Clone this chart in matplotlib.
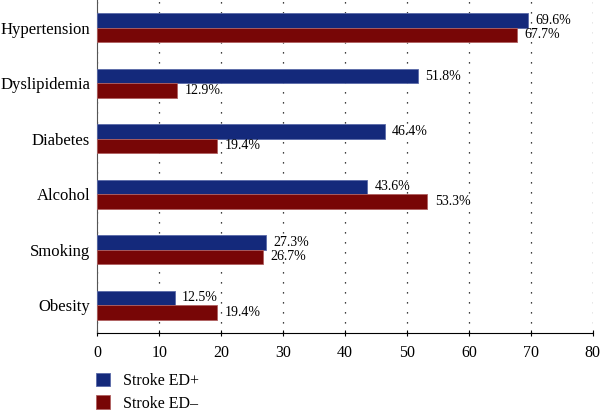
import matplotlib
matplotlib.use('Agg')
import matplotlib.pyplot as plt
import numpy as np

# datos
categorias = ['Hypertension', 'Dyslipidemia', 'Diabetes', 'Alcohol', 'Smoking', 'Obesity']
ed_pos = [69.6, 51.8, 46.4, 43.6, 27.3, 12.5]
ed_neg = [67.7, 12.9, 19.4, 53.3, 26.7, 19.4]
xticks = [0, 10, 20, 30, 40, 50, 60, 70, 80]

plt.rcParams['font.family'] = ['Liberation Serif', 'DejaVu Serif']

fig = plt.figure(figsize=(6, 4.13), dpi=100)
ax = fig.add_axes([0.162, 0.194, 0.826, 0.806])

y = np.arange(len(categorias))
h = 0.26
c_pos = '#14297B'
c_neg = '#780606'

b1 = ax.barh(y - h / 2, ed_pos, height=h, color=c_pos, edgecolor='#5a6aa8', linewidth=0.6,
             label='Stroke ED+', zorder=3)
b2 = ax.barh(y + h / 2, ed_neg, height=h, color=c_neg, edgecolor='#b06060', linewidth=0.6,
             label='Stroke ED\u2013', zorder=3)

# etiquetas de valores
for yy, v in zip(y, ed_pos):
    ax.text(v + 1.2, yy - h / 2, f'{v:.1f}%', va='center', ha='left', fontsize=10, zorder=4)
for yy, v in zip(y, ed_neg):
    ax.text(v + 1.2, yy + h / 2, f'{v:.1f}%', va='center', ha='left', fontsize=10, zorder=4)

ax.set_ylim(len(categorias) - 0.5, -0.5)
ax.set_xlim(0, 80)
ax.set_yticks(y)
ax.set_yticklabels(categorias, fontsize=12)
ax.set_xticks(xticks)
ax.tick_params(axis='x', labelsize=11.5, direction='inout', length=5, width=0.8, pad=6)
ax.tick_params(axis='y', length=0, pad=5)

for s in ['top', 'right']:
    ax.spines[s].set_visible(False)
ax.spines['left'].set_color('#555555')
ax.spines['bottom'].set_color('black')

# rejilla punteada
ax.xaxis.grid(True, linestyle=(0, (1, 7)), color='black', linewidth=0.9, zorder=0)
ax.set_axisbelow(True)

fig.legend(handles=[b1, b2], loc='upper left', bbox_to_anchor=(0.16, 0.097), frameon=False,
           fontsize=11.5, handlelength=0.9, handleheight=0.9, handletextpad=0.8, labelspacing=0.4,
           borderaxespad=0, borderpad=0)

plt.savefig('out.png', dpi=100)
